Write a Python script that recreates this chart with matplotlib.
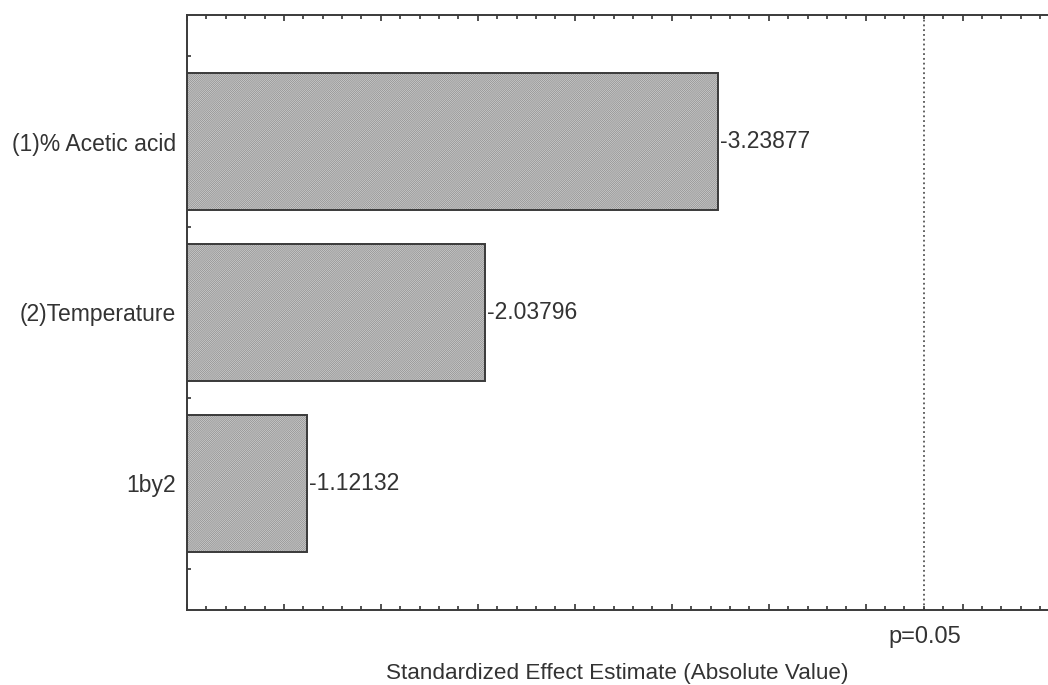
import numpy as np
import matplotlib
matplotlib.use('Agg')
import matplotlib.pyplot as plt
from matplotlib.ticker import MultipleLocator

plt.rcParams['font.family'] = ['Liberation Sans', 'DejaVu Sans']
plt.rcParams['hatch.linewidth'] = 0.7

# Efeitos padronizados (Pareto)
fatores = ['(1)% Acetic acid', '(2)Temperature', '1by2']
efeitos = [-3.23877, -2.03796, -1.12132]
t_critico = 4.303  # p=0.05

fig = plt.figure(figsize=(10.48, 6.85), dpi=100)
ax = fig.add_axes([0.1784, 0.1095, 0.8216, 0.8686])

y = np.arange(len(fatores))
# preenchimento hachurado
ax.barh(y, np.abs(efeitos), height=0.8, color='#e2e2e2', edgecolor='#969696',
        hatch='/' * 16, linewidth=0, zorder=2)
# contorno
ax.barh(y, np.abs(efeitos), height=0.8, fill=False, edgecolor='#3a3a3a',
        linewidth=1.4, zorder=3)

for yi, e in zip(y, efeitos):
    ax.text(abs(e) + 0.01, yi, f'{e:.5f}', va='center', ha='left', fontsize=16.5,
            color='#333333')

ax.axvline(t_critico, color='#555555', linestyle=':', linewidth=1.3, zorder=1)
ax.text(t_critico, -0.045, 'p=0.05', transform=ax.get_xaxis_transform(),
        ha='center', va='center', fontsize=17, color='#333333')

ax.set_xlim(0.5, 4.94)
ax.set_ylim(2.74, -0.74)

ax.set_yticks(y)
ax.set_yticklabels(fatores, fontsize=16.5, color='#333333')
ax.yaxis.set_minor_locator(MultipleLocator(0.25))
ax.xaxis.set_major_locator(MultipleLocator(0.5))
ax.xaxis.set_minor_locator(MultipleLocator(0.1))
ax.tick_params(axis='x', which='both', direction='in', top=True, bottom=True,
               labelbottom=False, color='#333333', width=1.2)
ax.tick_params(axis='x', which='major', length=4.5)
ax.tick_params(axis='x', which='minor', length=3)
ax.tick_params(axis='y', which='both', direction='in', length=3, width=1.2,
               color='#333333')
ax.tick_params(axis='y', which='major', pad=8)

for s in ['left', 'top', 'bottom']:
    ax.spines[s].set_color('#3a3a3a')
    ax.spines[s].set_linewidth(1.4)
ax.spines['right'].set_visible(False)

ax.set_xlabel('Standardized Effect Estimate (Absolute Value)', fontsize=16.2,
              color='#333333', labelpad=38)

fig.savefig('out.png', dpi=100)
